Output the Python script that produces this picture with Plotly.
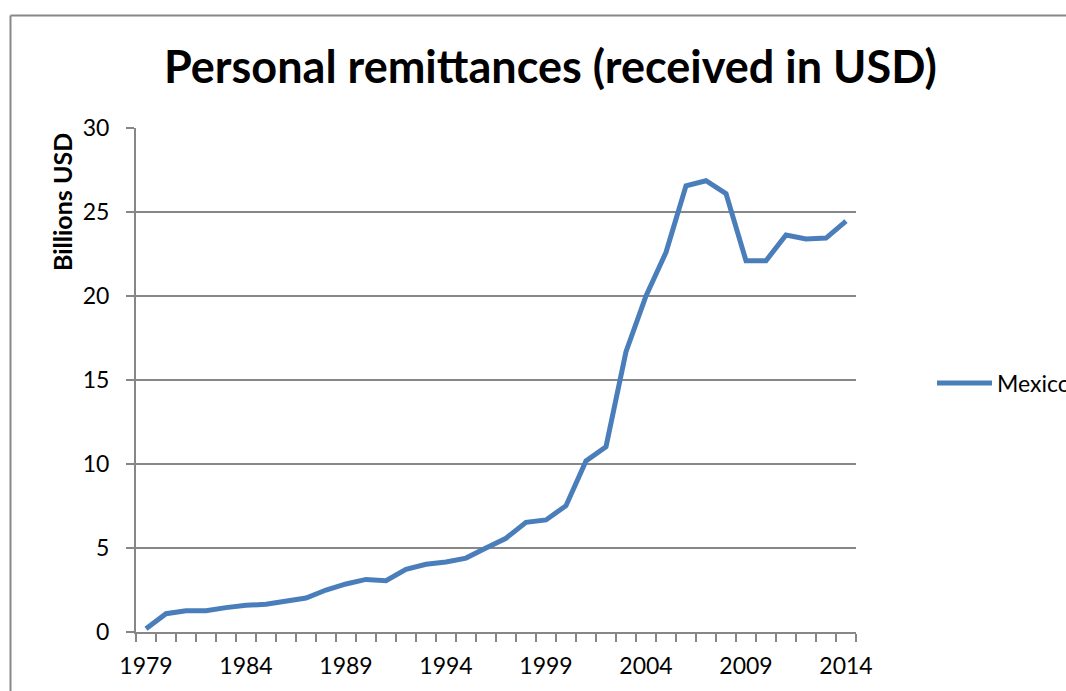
import plotly.graph_objects as go

years = list(range(1979, 2015))
mexico = [0.2, 1.09, 1.27, 1.27, 1.45, 1.59, 1.65, 1.83, 2.02, 2.5,
          2.86, 3.13, 3.05, 3.73, 4.03, 4.17, 4.40, 5.0, 5.58, 6.53,
          6.67, 7.52, 10.18, 11.03, 16.68, 20.0, 22.6, 26.56, 26.86, 26.1,
          22.1, 22.1, 23.63, 23.39, 23.45, 24.46]
label_years = [1979, 1984, 1989, 1994, 1999, 2004, 2009, 2014]
y_ticks = [0, 5, 10, 15, 20, 25, 30]

W, H = 1066, 691
L, R, T, B = 136, 210, 128, 59
pw, ph = W - L - R, H - T - B

def px_x(x):
    return (x - L) / pw

def px_y(y):
    return (H - B - y) / ph

GRAY = "#878787"
FONT = "Lato"

fig = go.Figure()
fig.add_trace(go.Scatter(
    x=years, y=mexico, mode="lines", name="Mexico",
    line=dict(color="#4a7ebb", width=5),
))

fig.update_layout(
    width=W, height=H,
    margin=dict(l=L, r=R, t=T, b=B, autoexpand=False),
    paper_bgcolor="white", plot_bgcolor="white",
    font=dict(family=FONT, color="black", size=23),
    showlegend=True,
    legend=dict(x=px_x(932), y=px_y(383), xanchor="left", yanchor="middle",
                font=dict(size=23, family=FONT), itemwidth=55,
                bgcolor="rgba(0,0,0,0)"),
    xaxis=dict(
        range=[1978.5, 2014.5], tickmode="array", tickvals=label_years,
        ticktext=[str(v) for v in label_years],
        ticks="", showgrid=False, zeroline=False,
        showline=True, linecolor=GRAY, linewidth=2,
        ticklabelstandoff=12,
        minor=dict(ticks="outside", tickmode="linear", tick0=1978.5, dtick=1,
                   ticklen=8, tickcolor=GRAY, tickwidth=2, showgrid=False),
        tickfont=dict(size=23, family=FONT),
    ),
    yaxis=dict(
        range=[0, 30], tickmode="array", tickvals=y_ticks,
        ticks="outside", ticklen=8, tickcolor=GRAY, tickwidth=2,
        showgrid=True, gridcolor=GRAY, gridwidth=2,
        zeroline=False, showline=True, linecolor=GRAY, linewidth=2,
        ticklabelstandoff=12,
        tickfont=dict(size=23, family=FONT),
    ),
)

fig.add_annotation(
    text="<b>Personal remittances (received in USD)</b>",
    xref="paper", yref="paper", x=px_x(550), y=px_y(66),
    xanchor="center", yanchor="middle", showarrow=False,
    font=dict(size=45, family=FONT, color="black"),
)
fig.add_annotation(
    text="<b>Billions USD</b>",
    xref="paper", yref="paper", x=px_x(62), y=px_y(202),
    xanchor="center", yanchor="middle", showarrow=False, textangle=-90,
    font=dict(size=25, family=FONT, color="black"),
)

# chart border (left and top edges visible)
bx, by = px_x(10.5), px_y(15.5)
fig.add_shape(type="line", xref="paper", yref="paper",
              x0=bx, y0=px_y(H + 5), x1=bx, y1=by,
              line=dict(color=GRAY, width=2), layer="below")
fig.add_shape(type="line", xref="paper", yref="paper",
              x0=bx, y0=by, x1=px_x(W + 5), y1=by,
              line=dict(color=GRAY, width=2), layer="below")

fig.write_html("out.html")
